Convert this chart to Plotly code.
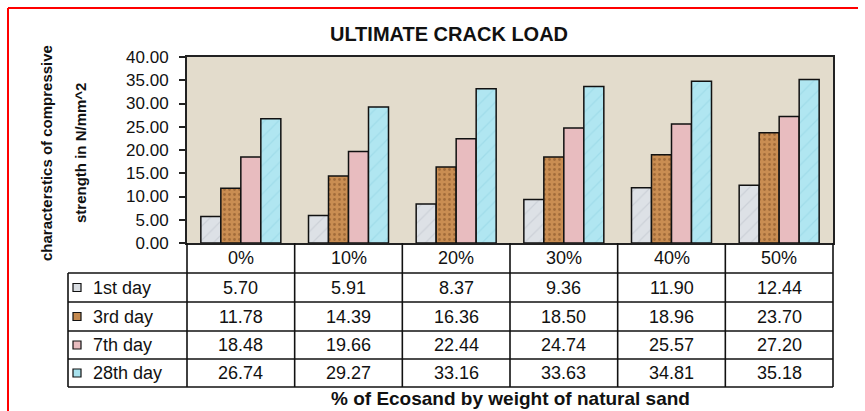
import plotly.graph_objects as go

# ---- data ----
categories = ["0%", "10%", "20%", "30%", "40%", "50%"]
series_names = ["1st day", "3rd day", "7th day", "28th day"]
day1 = [5.70, 5.91, 8.37, 9.36, 11.90, 12.44]
day3 = [11.78, 14.39, 16.36, 18.50, 18.96, 23.70]
day7 = [18.48, 19.66, 22.44, 24.74, 25.57, 27.20]
day28 = [26.74, 29.27, 33.16, 33.63, 34.81, 35.18]
y_ticks = [0, 5, 10, 15, 20, 25, 30, 35, 40]

title_text = "ULTIMATE CRACK LOAD"
y_title_1 = "characterstics of compressive"
y_title_2 = "strength in N/mm^2"
x_title = "% of Ecosand by weight of natural sand"

# ---- style / layout ----
W, H = 865, 411
ML, MR, MT, MB = 187, 32, 57, 168
PW = W - ML - MR
PH = H - MT - MB
Y0 = MT + PH  # pixel of zero line

def px_x(px):
    return (px - ML) / PW

def px_y(py):
    return (Y0 - py) / PH

colors = ["#d9dde2", "#c4894f", "#e8bcbf", "#a8e2ee"]
patterns = [
    dict(shape="/", fgcolor="#bcc2ca", bgcolor="#dde1e6", size=10, solidity=0.12),
    dict(shape=".", fgcolor="#7a4a22", bgcolor="#c98d52", size=5, solidity=0.25),
    dict(shape=""),
    dict(shape="/", fgcolor="#8fd2e2", bgcolor="#b0e6f1", size=10, solidity=0.12),
]
all_series = [day1, day3, day7, day28]
FONT = "Liberation Sans, Arial, sans-serif"
TBL = 18

fig = go.Figure()
for name, vals, col, pat in zip(series_names, all_series, colors, patterns):
    fig.add_trace(go.Bar(
        x=categories, y=vals, name=name,
        marker=dict(color=col, line=dict(color="#111111", width=1.5), pattern=pat),
        showlegend=False,
    ))

# table geometry (pixels)
row_edges = [Y0, 273, 302, 331, 359, 387]
legend_left = 68
legend_text_x = 91
key_x0, key_x1 = 73, 81

shapes = []
annotations = []
line_style = dict(color="#111111", width=1.6)

n = len(categories)
for k in range(n + 1):
    shapes.append(dict(type="line", xref="paper", yref="paper",
                       x0=k / n, x1=k / n, y0=px_y(row_edges[0]), y1=px_y(row_edges[-1]),
                       line=line_style))
shapes.append(dict(type="line", xref="paper", yref="paper",
                   x0=px_x(legend_left), x1=px_x(legend_left),
                   y0=px_y(row_edges[1]), y1=px_y(row_edges[-1]), line=line_style))
for r in row_edges[1:]:
    shapes.append(dict(type="line", xref="paper", yref="paper",
                       x0=px_x(legend_left), x1=1, y0=px_y(r), y1=px_y(r), line=line_style))

def txt(x, y, text, xref="x", size=TBL, xanchor="center", **kw):
    return dict(x=x, y=y, xref=xref, yref="paper", text=text, showarrow=False,
                xanchor=xanchor, yanchor="middle",
                font=dict(size=size, color="#111", family=FONT), **kw)

hc = (row_edges[0] + row_edges[1]) / 2
for c in categories:
    annotations.append(txt(c, px_y(hc), c))
for i, (name, vals, col) in enumerate(zip(series_names, all_series, colors)):
    yc = (row_edges[i + 1] + row_edges[i + 2]) / 2
    for c, v in zip(categories, vals):
        annotations.append(txt(c, px_y(yc), f"{v:.2f}"))
    annotations.append(txt(px_x(legend_text_x), px_y(yc), name, xref="paper", xanchor="left"))
    shapes.append(dict(type="rect", xref="paper", yref="paper",
                       x0=px_x(key_x0), x1=px_x(key_x1), y0=px_y(yc + 4), y1=px_y(yc - 4),
                       fillcolor=col, line=dict(color="#111", width=1.2)))

annotations.append(txt(px_x(46), px_y(153), f"<b>{y_title_1}</b>", xref="paper", size=15, textangle=-90))
annotations.append(txt(px_x(80), px_y(153), f"<b>{y_title_2}</b>", xref="paper", size=15, textangle=-90))
annotations.append(txt(0.5, px_y(398), f"<b>{x_title}</b>", xref="paper", size=19))

# red frame
shapes.append(dict(type="line", xref="paper", yref="paper", x0=px_x(8), x1=px_x(8),
                   y0=px_y(8), y1=px_y(H + 2), line=dict(color="#ff0000", width=2)))
shapes.append(dict(type="line", xref="paper", yref="paper", x0=px_x(8), x1=px_x(858),
                   y0=px_y(8), y1=px_y(8), line=dict(color="#ff0000", width=2)))

fig.update_layout(
    width=W, height=H,
    margin=dict(l=ML, r=MR, t=MT, b=MB),
    paper_bgcolor="white", plot_bgcolor="#e3dccc",
    barmode="group", bargap=0.257, bargroupgap=0,
    title=dict(text=f"<b>{title_text}</b>", x=449 / W, xref="container", xanchor="center",
               y=1 - 34 / H, yanchor="middle", font=dict(size=20, color="#111", family=FONT)),
    font=dict(family=FONT, color="#111"),
    xaxis=dict(showticklabels=False, ticks="", showline=True, linecolor="#222", linewidth=2,
               mirror=True, showgrid=False, zeroline=False),
    yaxis=dict(range=[0, 40], tickvals=y_ticks, tickformat=".2f", ticks="outside", ticklen=6,
               tickcolor="#222", tickwidth=1.5, ticklabelstandoff=7,
               tickfont=dict(size=17, color="#111", family=FONT),
               showline=True, linecolor="#222", linewidth=2, mirror=True, showgrid=False,
               zeroline=False),
    shapes=shapes, annotations=annotations,
)

fig.write_html("out.html", config={"displayModeBar": False},
               post_script="document.body.style.margin='0';document.body.style.overflow='hidden';")
